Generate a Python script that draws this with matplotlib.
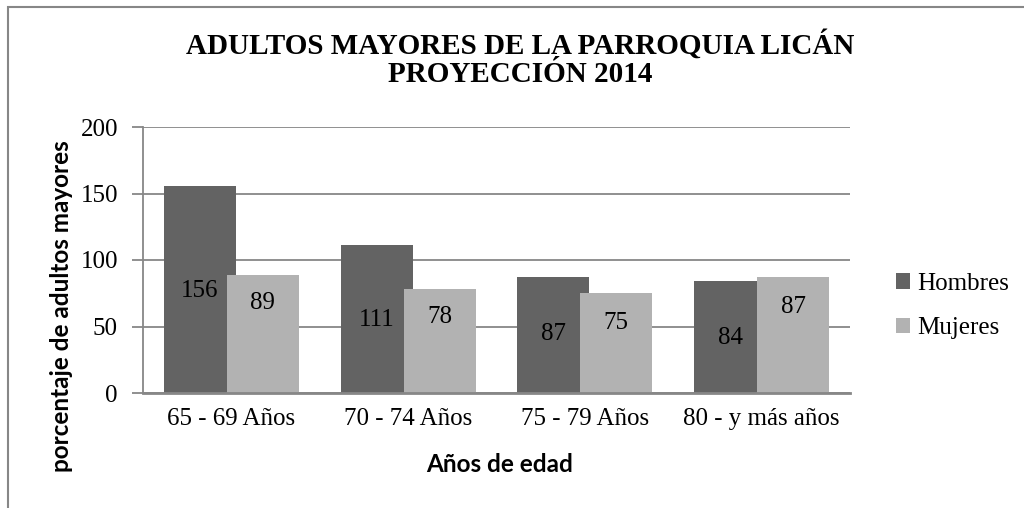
import matplotlib
matplotlib.use("Agg")
import matplotlib.pyplot as plt
import numpy as np
from matplotlib.patches import Rectangle

# data
categories = ["65 - 69 Años", "70 - 74 Años", "75 - 79 Años", "80 - y más años"]
hombres = [156, 111, 87, 84]
mujeres = [89, 78, 75, 87]
series_names = ["Hombres", "Mujeres"]
yticks = [0, 50, 100, 150, 200]


def main():
    fig = plt.figure(figsize=(10.24, 5.08), dpi=100)
    ax = fig.add_axes([143 / 1024, 1 - 393 / 508, 707 / 1024, 266 / 508])

    serif = "Liberation Serif"
    sans = "Lato"
    grid_c = "#878787"
    dark = "#636363"
    light = "#b2b2b2"
    fs = 18

    x = np.arange(len(categories))
    width = 0.407
    off = 0.178
    b1 = ax.bar(x - off, hombres, width, color=dark, label=series_names[0], zorder=2)
    b2 = ax.bar(x + off, mujeres, width, color=light, label=series_names[1], zorder=3)

    # Excel placed the labels somewhere inside each bar, heights in data units
    lab_h = [77, 55, 44, 41]
    lab_m = [68, 57, 53, 65]
    for i in range(len(categories)):
        ax.text(x[i] - off, lab_h[i], str(hombres[i]), ha="center", va="center",
                fontsize=fs, family=serif, color="black", zorder=4)
        ax.text(x[i] + off, lab_m[i], str(mujeres[i]), ha="center", va="center",
                fontsize=fs, family=serif, color="black", zorder=4)

    ax.set_xlim(-0.5, len(categories) - 0.5)
    ax.set_ylim(0, 200)
    ax.set_yticks(yticks)
    ax.set_yticklabels([str(v) for v in yticks], family=serif, fontsize=fs)
    ax.set_xticks(x)
    ax.set_xticklabels(categories, family=serif, fontsize=fs)
    ax.tick_params(axis="x", length=0, pad=11)
    ax.tick_params(axis="y", length=8, width=1.3, color=grid_c, pad=10)
    ax.yaxis.grid(True, color=grid_c, linewidth=1.3, zorder=0)
    ax.set_axisbelow(True)
    for s in ["top", "right"]:
        ax.spines[s].set_visible(False)
    ax.spines["left"].set_color(grid_c)
    ax.spines["left"].set_linewidth(1.3)
    ax.spines["bottom"].set_color(grid_c)
    ax.spines["bottom"].set_linewidth(2)
    ax.spines["bottom"].set_zorder(5)

    fig.text(500 / 1024, 1 - 464 / 508, "Años de edad", ha="center", va="center",
             family=sans, fontweight="bold", fontsize=17.5)
    fig.text(62 / 1024, 1 - 306 / 508, "porcentaje de adultos mayores", ha="center",
             va="center", rotation=90, family=sans, fontweight="bold", fontsize=17.5)

    fig.text(520 / 1024, 1 - 54 / 508, "ADULTOS MAYORES DE LA PARROQUIA LICÁN",
             ha="center", va="baseline", family=serif, fontweight="bold", fontsize=21)
    fig.text(520 / 1024, 1 - 82 / 508, "PROYECCIÓN 2014",
             ha="center", va="baseline", family=serif, fontweight="bold", fontsize=21)

    fig.legend(handles=[b1, b2], labels=series_names, loc="center left",
               bbox_to_anchor=(873 / 1024, 1 - 306 / 508), frameon=False,
               prop={"family": serif, "size": fs}, handlelength=0.56,
               handleheight=0.56, handletextpad=0.3, labelspacing=0.9)

    # outer chart frame (right and bottom edges fall outside the image)
    fig.patches.append(Rectangle((8 / 1024, -0.1), 1.1, 1.1 - 7 / 508,
                                 transform=fig.transFigure, fill=False,
                                 edgecolor=grid_c, linewidth=1.5))

    fig.savefig("out.png", dpi=100)


if __name__ == "__main__":
    main()
